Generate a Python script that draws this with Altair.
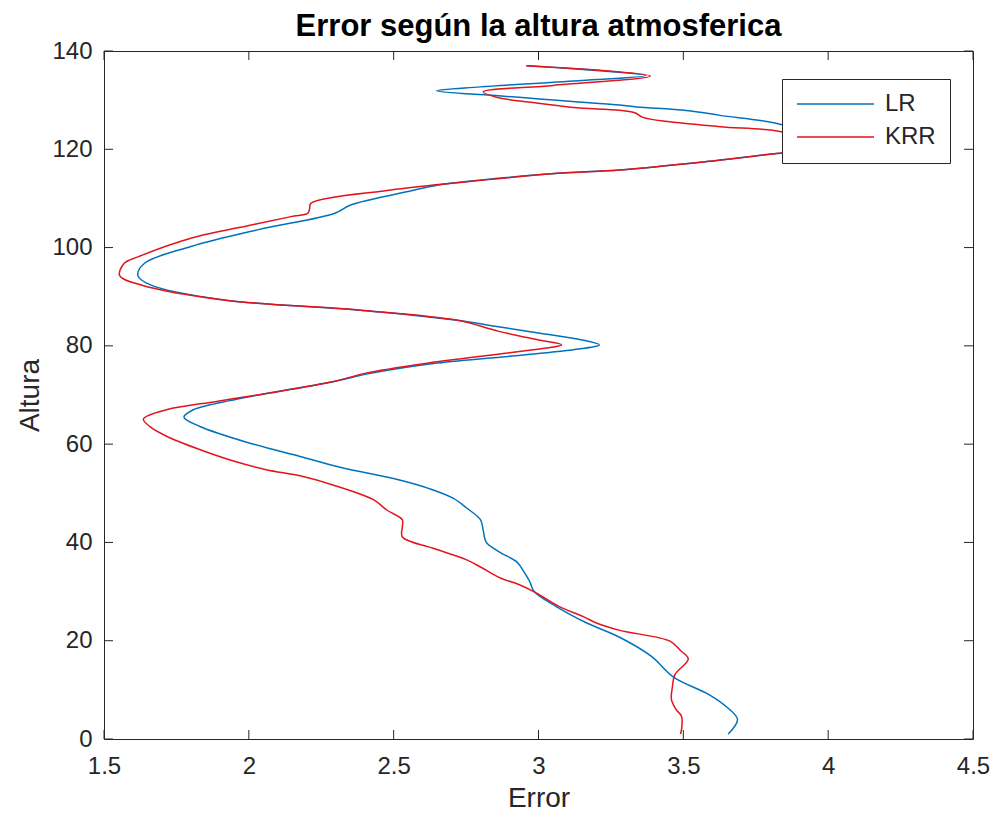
import altair as alt
import pandas as pd

# Error profiles against atmospheric height for the two regressors
alt_lr = [1, 4, 6.5, 9, 12.6, 16.8, 20.7, 23.6, 27, 30, 32, 34, 36, 38, 40, 42.5,
          44.6, 47, 49, 51, 52.7, 55.3, 57.5, 60.2, 63.6, 65.5, 67, 68, 70.3, 72.7,
          74.4, 76.5, 78, 79.2, 80.2, 81.2, 82.6, 84, 85.2, 87.3, 89.3, 92.4, 94.3,
          96.8, 100.2, 103.6, 107, 108.7, 111.4, 112.7, 115.1, 115.8, 117.5, 119.2,
          120, 122.5, 125, 126.9, 127.9, 128.6, 129, 130.8, 131.9, 132.7, 134, 135, 137]
err_lr = [3.655, 3.687, 3.65, 3.59, 3.466, 3.39, 3.28, 3.167, 3.06, 2.985, 2.97, 2.95,
          2.926, 2.867, 2.82, 2.809, 2.80, 2.752, 2.705, 2.62, 2.52, 2.315, 2.177, 2.004,
          1.831, 1.776, 1.808, 1.866, 2.06, 2.29, 2.42, 2.65, 2.92, 3.12, 3.21, 3.15,
          3.0, 2.85, 2.72, 2.377, 1.92, 1.66, 1.617, 1.64, 1.80, 2.03, 2.297, 2.353,
          2.55, 2.65, 3.067, 3.28, 3.58, 3.834, 4.02, 3.93, 3.84, 3.627, 3.51, 3.34,
          3.28, 2.88, 2.648, 2.798, 3.15, 3.37, 2.96]

alt_krr = [1, 2, 4.6, 6, 8, 10.5, 13.1, 16.3, 18, 19.9, 22.1, 23.6, 24.9, 27, 29.8,
           31.5, 32.7, 35, 36.5, 38.8, 41.1, 43.2, 44.6, 46.6, 48.7, 51.7, 53.5, 54.8,
           56.5, 58.9, 61.6, 63.5, 65.1, 67, 68.7, 70.3, 72.7, 74.4, 76.5, 78.3, 79.5,
           80.2, 81.2, 83, 85.2, 87.3, 89.3, 92.4, 94.3, 96.8, 98.1, 101.9, 104.5,
           106.3, 107, 108, 109, 111.7, 113.2, 115.1, 115.8, 117.5, 119.2, 120, 121.5,
           123.6, 124.6, 125.6, 126.5, 127.5, 128.5, 129.5, 130.6, 131.7, 133, 134.9, 137]
err_krr = [3.49, 3.494, 3.494, 3.475, 3.459, 3.462, 3.471, 3.517, 3.49, 3.454, 3.281,
           3.20, 3.155, 3.07, 2.99, 2.93, 2.87, 2.80, 2.75, 2.636, 2.53, 2.53, 2.53,
           2.476, 2.43, 2.29, 2.18, 2.06, 1.95, 1.83, 1.716, 1.66, 1.636, 1.716, 1.889,
           2.06, 2.29, 2.40, 2.62, 2.86, 3.02, 3.08, 3.0, 2.86, 2.72, 2.377, 1.92, 1.628,
           1.554, 1.57, 1.617, 1.80, 2.0, 2.146, 2.204, 2.21, 2.214, 2.49, 2.72, 3.067,
           3.28, 3.58, 3.834, 4.02, 3.93, 3.834, 3.627, 3.454, 3.36, 3.33, 3.12, 2.98,
           2.855, 2.809, 3.05, 3.386, 2.957]

series = ["LR", "KRR"]
colors = ["#0072BD", "#E2141C"]
x_ticks = [1.5, 2, 2.5, 3, 3.5, 4, 4.5]
y_ticks = [0, 20, 40, 60, 80, 100, 120, 140]

lr = pd.DataFrame({"Altura": alt_lr, "Error": err_lr, "Modelo": "LR"})
krr = pd.DataFrame({"Altura": alt_krr, "Error": err_krr, "Modelo": "KRR"})
xt = pd.DataFrame({"Error": x_ticks})
yt = pd.DataFrame({"Altura": y_ticks})

W, H = 869, 688
TICK = 9
AX = "#262626"
FONT = "Liberation Sans"

xs = alt.Scale(domain=[1.5, 4.5], nice=False, zero=False)
ys = alt.Scale(domain=[0, 140], nice=False, zero=False)
cs = alt.Scale(domain=series, range=colors)

x_axis = alt.Axis(values=x_ticks, format="~r", title="Error", grid=False, ticks=False,
                  domain=False, labelFontSize=24, labelPadding=15, labelColor=AX,
                  labelFont=FONT, titleFontSize=28, titleFont=FONT, titleColor=AX,
                  titleFontWeight="normal", titlePadding=6, labelFlush=False)
y_axis = alt.Axis(values=y_ticks, format="d", title="Altura", grid=False, ticks=False,
                  domain=False, labelFontSize=24, labelPadding=12, labelColor=AX,
                  labelFont=FONT, titleFontSize=28, titleFont=FONT, titleColor=AX,
                  titleFontWeight="normal", titlePadding=7, labelFlush=False)

legend = alt.Legend(orient="none", legendX=678, legendY=28, title=None,
                    symbolType="stroke", symbolSize=77 * 77, symbolStrokeWidth=1.5,
                    clipHeight=22, rowPadding=9, padding=14, labelOffset=10,
                    labelFontSize=24, labelFont=FONT, labelColor=AX,
                    strokeColor=AX, fillColor="white", symbolOffset=0)

X = alt.X("Error:Q", scale=xs, axis=x_axis)
Y = alt.Y("Altura:Q", scale=ys, axis=y_axis)


def profile(df):
    return alt.Chart(df).mark_line(strokeWidth=1.5, interpolate="catmull-rom").encode(
        x=X, y=Y,
        color=alt.Color("Modelo:N", scale=cs, legend=legend),
        order=alt.Order("Altura:Q"),
    )


# inward tick marks on all four sides of the box
tick_style = dict(color=AX, strokeWidth=1)
bottom = alt.Chart(xt).mark_rule(**tick_style).encode(
    x=X, y=alt.value(H), y2=alt.value(H - TICK))
top = alt.Chart(xt).mark_rule(**tick_style).encode(
    x=X, y=alt.value(0), y2=alt.value(TICK))
left = alt.Chart(yt).mark_rule(**tick_style).encode(
    y=Y, x=alt.value(0), x2=alt.value(TICK))
right = alt.Chart(yt).mark_rule(**tick_style).encode(
    y=Y, x=alt.value(W), x2=alt.value(W - TICK))

chart = alt.layer(
    profile(lr), profile(krr), bottom, top, left, right
).properties(
    width=W, height=H,
    background="white",
    title=alt.TitleParams("Error según la altura atmosferica", fontSize=31, font=FONT,
                          fontWeight="bold", color="black", offset=-4, anchor="middle"),
    autosize=alt.AutoSizeParams(type="none"),
    padding={"left": 104, "top": 51, "right": 23, "bottom": 82},
).configure_view(
    stroke=AX, strokeWidth=1
)

chart.save("out.html", embed_options={"renderer": "svg", "actions": False})
